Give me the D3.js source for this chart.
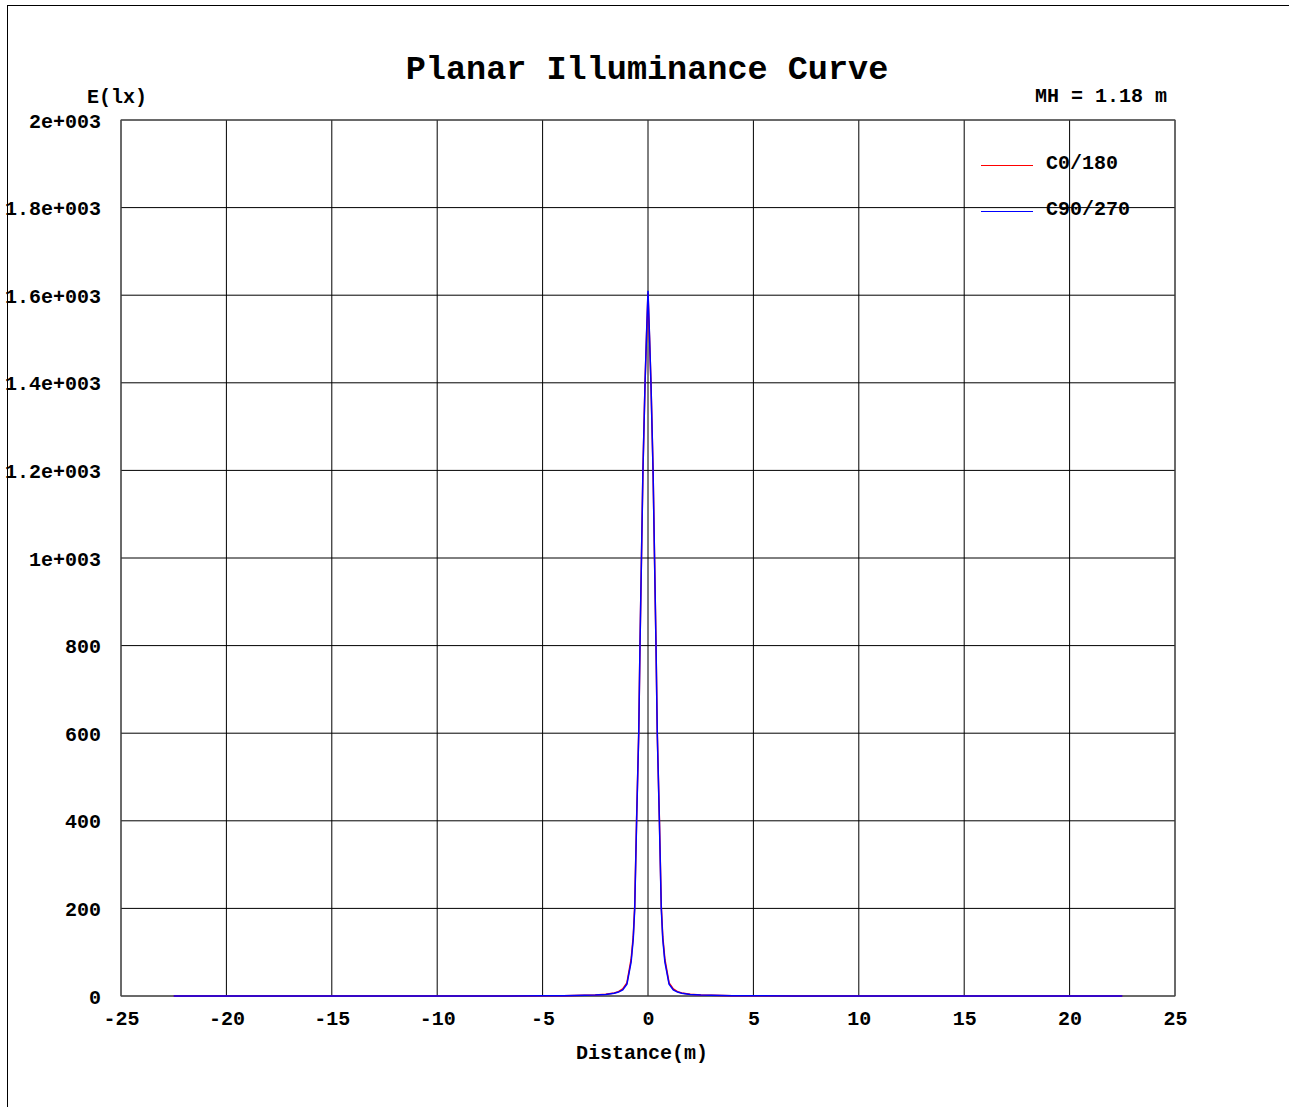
<!DOCTYPE html>
<html>
<head>
<meta charset="utf-8">
<script src="https://cdn.jsdelivr.net/npm/d3@7"></script>
<style>
  html, body { margin: 0; padding: 0; background: #fff; }
  svg { display: block; }
  text { font-family: "Liberation Mono", "Courier New", monospace; font-weight: bold; fill: #000; }
</style>
</head>
<body>
<svg id="chart" width="1289" height="1107"></svg>
<script>
// ---- data ----
const xTicks = [-25, -20, -15, -10, -5, 0, 5, 10, 15, 20, 25];
const yTicks = [0, 200, 400, 600, 800, 1000, 1200, 1400, 1600, 1800, 2000];
const yTickLabels = ["0", "200", "400", "600", "800", "1e+003", "1.2e+003", "1.4e+003", "1.6e+003", "1.8e+003", "2e+003"];

const distances = [-22.5, -20, -15, -10, -7, -5, -4, -3, -2.5, -2, -1.6, -1.4, -1.2, -1.0, -0.8, -0.7, -0.63, -0.54, -0.44, -0.38, -0.31, -0.24, -0.14, -0.07, 0,
                   0.07, 0.14, 0.24, 0.31, 0.38, 0.44, 0.54, 0.63, 0.7, 0.8, 1.0, 1.2, 1.4, 1.6, 2, 2.5, 3, 4, 5, 7, 10, 15, 20, 22.5];
const c0_180 = [0.01, 0.01, 0.03, 0.08, 0.2, 0.45, 0.8, 1.6, 2.4, 4.0, 7.0, 10, 16, 30, 84, 136, 205, 405, 600, 800, 1000, 1200, 1400, 1505, 1605,
                1505, 1400, 1200, 1000, 800, 600, 405, 205, 136, 84, 30, 16, 10, 7.0, 4.0, 2.4, 1.6, 0.8, 0.45, 0.2, 0.08, 0.03, 0.01, 0.01];
const c90_270 = [0.01, 0.01, 0.03, 0.08, 0.2, 0.45, 0.8, 1.5, 2.2, 3.7, 6.5, 9, 14, 27, 78, 130, 200, 400, 600, 800, 1000, 1200, 1400, 1510, 1610,
                 1510, 1400, 1200, 1000, 800, 600, 400, 200, 130, 78, 27, 14, 9, 6.5, 3.7, 2.2, 1.5, 0.8, 0.45, 0.2, 0.08, 0.03, 0.01, 0.01];
const seriesNames = ["C0/180", "C90/270"];
const seriesColors = ["#ff0000", "#0000ff"];

// ---- layout ----
const svg = d3.select("#chart");
const W = 1289, H = 1107;
const pLeft = 121, pRight = 1175, pTop = 120, pBottom = 996;

svg.append("rect").attr("width", W).attr("height", H).attr("fill", "#fff");

// outer frame (top and left lines)
svg.append("line").attr("x1", 7).attr("y1", 5.5).attr("x2", W).attr("y2", 5.5).attr("stroke", "#000").attr("stroke-width", 1);
svg.append("line").attr("x1", 7.5).attr("y1", 5).attr("x2", 7.5).attr("y2", H).attr("stroke", "#000").attr("stroke-width", 1);

const x = d3.scaleLinear().domain([-25, 25]).range([pLeft, pRight]);
const y = d3.scaleLinear().domain([0, 2000]).range([pBottom, pTop]);

// grid
const g = svg.append("g");
g.selectAll("line.vg").data(xTicks).join("line")
  .attr("x1", d => x(d)).attr("x2", d => x(d)).attr("y1", pTop).attr("y2", pBottom)
  .attr("stroke", "#000").attr("stroke-width", 1);
g.selectAll("line.hg").data(yTicks).join("line")
  .attr("y1", d => y(d)).attr("y2", d => y(d)).attr("x1", pLeft).attr("x2", pRight)
  .attr("stroke", "#000").attr("stroke-width", 1);

// frame
svg.append("rect").attr("x", pLeft).attr("y", pTop).attr("width", pRight - pLeft).attr("height", pBottom - pTop)
  .attr("fill", "none").attr("stroke", "#555").attr("stroke-width", 1);

// axes labels via d3 axes (no lines)
const xAxis = d3.axisBottom(x).tickValues(xTicks).tickSize(0).tickPadding(0).tickFormat(d => String(d));
const xa = svg.append("g").attr("transform", `translate(0,${pBottom})`).call(xAxis);
xa.select(".domain").remove();
xa.selectAll("text").attr("y", 29).attr("dy", null)
  .style("font-family", '"Liberation Mono", "Courier New", monospace').style("font-weight", "bold")
  .style("font-size", "20px").attr("fill", "#000");

const yAxis = d3.axisLeft(y).tickValues(yTicks).tickSize(0).tickPadding(0).tickFormat((d, i) => yTickLabels[i]);
const ya = svg.append("g").attr("transform", `translate(${pLeft - 20},0)`).call(yAxis);
ya.select(".domain").remove();
ya.selectAll("text").attr("x", 0).attr("dy", "0.35em")
  .style("font-family", '"Liberation Mono", "Courier New", monospace').style("font-weight", "bold")
  .style("font-size", "20px").attr("fill", "#000");

// curves
const line = d3.line().x(d => x(d[0])).y(d => y(d[1]));
const series = [c0_180, c90_270];
series.forEach((vals, i) => {
  svg.append("path")
    .datum(distances.map((d, j) => [d, vals[j]]))
    .attr("d", line)
    .attr("fill", "none")
    .attr("stroke", seriesColors[i])
    .attr("stroke-width", 1.5);
});

// title and labels
svg.append("text").attr("x", 647).attr("y", 79).attr("text-anchor", "middle")
  .style("font-size", "33.5px").text("Planar Illuminance Curve");
svg.append("text").attr("x", 117).attr("y", 103).attr("text-anchor", "middle")
  .style("font-size", "20px").text("E(lx)");
svg.append("text").attr("x", 1167).attr("y", 102).attr("text-anchor", "end")
  .style("font-size", "20px").text("MH = 1.18 m");
svg.append("text").attr("x", 642).attr("y", 1059).attr("text-anchor", "middle")
  .style("font-size", "20px").text("Distance(m)");

// legend
const legY = [165.5, 211.5];
seriesNames.forEach((name, i) => {
  svg.append("line").attr("x1", 981).attr("x2", 1033).attr("y1", legY[i]).attr("y2", legY[i])
    .attr("stroke", seriesColors[i]).attr("stroke-width", 1);
  svg.append("text").attr("x", 1046).attr("y", legY[i] + 3).style("font-size", "20px").text(name);
});
</script>
</body>
</html>
